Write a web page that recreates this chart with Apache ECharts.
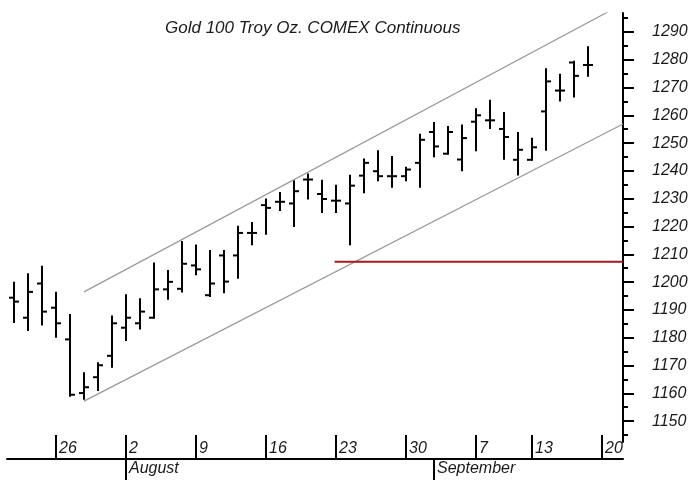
<!DOCTYPE html>
<html>
<head>
<meta charset="utf-8">
<script src="https://cdn.jsdelivr.net/npm/echarts@6/dist/echarts.min.js"></script>
<style>
html, body { margin: 0; padding: 0; background: #fff; }
#ET1 { width: 696px; height: 480px; }
</style>
</head>
<body>
<div id="ET1"></div>
<script>
// trading days, 2010-07-21 .. 2010-09-17 (index = position on the x axis)
var dates = ['07-21', '07-22', '07-23', '07-26', '07-27', '07-28', '07-29', '07-30',
    '08-02', '08-03', '08-04', '08-05', '08-06', '08-09', '08-10', '08-11', '08-12', '08-13',
    '08-16', '08-17', '08-18', '08-19', '08-20', '08-23', '08-24', '08-25', '08-26', '08-27',
    '08-30', '08-31', '09-01', '09-02', '09-03', '09-07', '09-08', '09-09', '09-10',
    '09-13', '09-14', '09-15', '09-16', '09-17'];
var openV = [1194.4, 1187.2, 1199.5, 1190.8, 1179.4, 1160.1, 1165.8, 1173.5, 1183.6, 1185.2,
    1187.2, 1197.4, 1197.6, 1206.0, 1195.3, 1209.6, 1209.6, 1217.7, 1227.7, 1228.9,
    1228.3, 1236.9, 1231.7, 1229.3, 1228.3, 1238.3, 1239.9, 1238.1, 1238.1, 1242.9,
    1254.0, 1246.2, 1244.1, 1257.7, 1258.2, 1255.1, 1244.0, 1244.0, 1261.4, 1268.9,
    1279.0, 1278.1];
var highV = [1199.8, 1202.8, 1205.5, 1196.2, 1188.2, 1167.2, 1170.8, 1187.6, 1195.3, 1193.8,
    1206.7, 1204.0, 1214.4, 1213.2, 1211.2, 1211.2, 1219.9, 1221.3, 1229.7, 1232.1,
    1236.3, 1238.7, 1236.5, 1234.7, 1238.3, 1244.1, 1247.1, 1245.0, 1241.1, 1253.0,
    1257.2, 1255.8, 1256.3, 1262.2, 1265.2, 1260.8, 1253.6, 1251.6, 1276.6, 1274.6,
    1279.3, 1284.5];
var lowV = [1185.7, 1182.8, 1184.8, 1180.4, 1159.1, 1158.1, 1161.2, 1169.6, 1179.2, 1183.3,
    1187.2, 1194.0, 1196.6, 1202.8, 1195.0, 1196.4, 1201.6, 1213.6, 1217.4, 1225.9,
    1220.2, 1230.1, 1225.2, 1225.2, 1213.6, 1232.3, 1236.6, 1234.3, 1236.6, 1234.3,
    1245.3, 1246.2, 1240.2, 1247.4, 1255.4, 1244.4, 1238.7, 1244.0, 1247.6, 1265.3,
    1266.8, 1274.2];
var closeV = [1193.0, 1196.5, 1189.4, 1185.2, 1159.5, 1162.2, 1170.1, 1185.2, 1187.2, 1189.4,
    1197.4, 1200.1, 1206.6, 1204.6, 1199.5, 1200.2, 1217.7, 1217.7, 1226.7, 1228.9,
    1232.7, 1236.9, 1229.9, 1229.3, 1234.7, 1242.9, 1238.1, 1238.1, 1240.5, 1251.2,
    1248.8, 1254.0, 1251.8, 1260.0, 1258.2, 1252.2, 1247.6, 1248.5, 1272.2, 1268.9,
    1274.2, 1278.1];

// trend channel and support line, [day index, price]
var upperChannel = [[5, 1196.5], [43.5, 1300.1]];
var lowerChannel = [[5, 1157.2], [43.5, 1256.9]];
var supportLine = [[22.9, 1207.3], [43.5, 1207.3]];

// axis ticks
var dayTicks = [3, 8, 13, 18, 23, 28, 33, 37, 42];
var dayLabels = ['26', '2', '9', '16', '23', '30', '7', '13', '20'];
var monthTicks = [8, 30];
var monthLabels = ['August', 'September'];
var priceTicks = [1150, 1160, 1170, 1180, 1190, 1200, 1210, 1220, 1230, 1240, 1250, 1260, 1270, 1280, 1290];
var priceMinorTicks = [1145, 1155, 1165, 1175, 1185, 1195, 1205, 1215, 1225, 1235, 1245, 1255, 1265, 1275, 1285, 1295];

var ohlc = [];
for (var i = 0; i < dates.length; i++) {
    ohlc.push([i, openV[i], highV[i], lowV[i], closeV[i]]);
}

var FONT = '"Liberation Sans", Arial, sans-serif';
var TXT = '#1a1a1a';
var PMIN = 1142.5, PMAX = 1296.8;

~function () {
    var myChart = echarts.init(ET1, null, {renderer: 'canvas'});
    var option = {
        animation: false,
        backgroundColor: '#fff',
        title: {
            text: 'Gold 100 Troy Oz. COMEX Continuous',
            left: 160,
            top: 15,
            textStyle: {fontFamily: FONT, fontSize: 17, fontStyle: 'italic', fontWeight: 'normal', color: TXT}
        },
        grid: [
            {left: 7, right: 73, top: 13, bottom: 38},
            {left: 7, right: 73, top: 13, bottom: 38}
        ],
        xAxis: [
            {
                type: 'value',
                min: -0.5,
                max: 43.5,
                position: 'bottom',
                offset: 17,
                splitLine: {show: false},
                axisLine: {show: true, onZero: false, lineStyle: {color: '#000', width: 2}},
                axisTick: {
                    show: true, inside: true, length: 24,
                    customValues: dayTicks,
                    lineStyle: {color: '#000', width: 2}
                },
                axisLabel: {
                    show: true, inside: true, margin: 2, align: 'left', padding: [0, 0, 0, 3],
                    customValues: dayTicks,
                    formatter: function (v) { return dayLabels[dayTicks.indexOf(Math.round(v))]; },
                    fontFamily: FONT, fontSize: 16, fontStyle: 'italic', color: TXT
                }
            },
            {
                type: 'value',
                min: -0.5,
                max: 43.5,
                position: 'bottom',
                offset: 17,
                splitLine: {show: false},
                axisLine: {show: false, onZero: false},
                axisTick: {
                    show: true, inside: false, length: 24,
                    customValues: monthTicks,
                    lineStyle: {color: '#000', width: 2}
                },
                axisLabel: {
                    show: true, margin: 2, align: 'left', padding: [0, 0, 0, 3],
                    customValues: monthTicks,
                    formatter: function (v) { return monthLabels[monthTicks.indexOf(Math.round(v))]; },
                    fontFamily: FONT, fontSize: 16, fontStyle: 'italic', color: TXT
                }
            },
            {
                gridIndex: 1,
                type: 'value',
                min: -0.5,
                max: 43.5,
                show: false
            }
        ],
        yAxis: [
            {
                type: 'value',
                position: 'right',
                min: PMIN,
                max: PMAX,
                splitLine: {show: false},
                axisLine: {show: true, onZero: false, lineStyle: {color: '#000', width: 2}},
                axisTick: {show: true, length: 11, customValues: priceTicks, lineStyle: {color: '#000', width: 2}},
                axisLabel: {
                    show: true, margin: 29, align: 'left',
                    customValues: priceTicks,
                    formatter: function (v) { return String(Math.round(v)); },
                    fontFamily: FONT, fontSize: 16, fontStyle: 'italic', color: TXT
                }
            },
            {
                gridIndex: 1,
                type: 'value',
                position: 'right',
                min: PMIN,
                max: PMAX,
                splitLine: {show: false},
                axisLine: {show: false, onZero: false},
                axisTick: {show: true, length: 5, customValues: priceMinorTicks, lineStyle: {color: '#000', width: 2}},
                axisLabel: {show: false}
            }
        ],
        series: [
            {
                name: 'channel top',
                type: 'line',
                data: upperChannel,
                symbol: 'none',
                clip: true,
                lineStyle: {color: '#999', width: 1.2}
            },
            {
                name: 'channel bottom',
                type: 'line',
                data: lowerChannel,
                symbol: 'none',
                clip: true,
                lineStyle: {color: '#999', width: 1.2}
            },
            {
                name: 'support',
                type: 'line',
                data: supportLine,
                symbol: 'none',
                clip: true,
                lineStyle: {color: '#a81818', width: 2}
            },
            {
                name: 'Gold',
                type: 'custom',
                data: ohlc,
                encode: {x: 0, y: [1, 2, 3, 4]},
                renderItem: function (params, api) {
                    var x = api.value(0);
                    var pO = api.coord([x, api.value(1)]);
                    var pH = api.coord([x, api.value(2)]);
                    var pL = api.coord([x, api.value(3)]);
                    var pC = api.coord([x, api.value(4)]);
                    var st = {stroke: '#000', lineWidth: 2};
                    return {
                        type: 'group',
                        children: [
                            {type: 'line', shape: {x1: pH[0], y1: pH[1] - 1, x2: pL[0], y2: pL[1] + 1}, style: st},
                            {type: 'line', shape: {x1: pO[0] - 5, y1: pO[1], x2: pO[0], y2: pO[1]}, style: st},
                            {type: 'line', shape: {x1: pC[0], y1: pC[1], x2: pC[0] + 5, y2: pC[1]}, style: st}
                        ]
                    };
                }
            }
        ]
    };
    myChart.setOption(option);
}();
</script>
</body>
</html>
